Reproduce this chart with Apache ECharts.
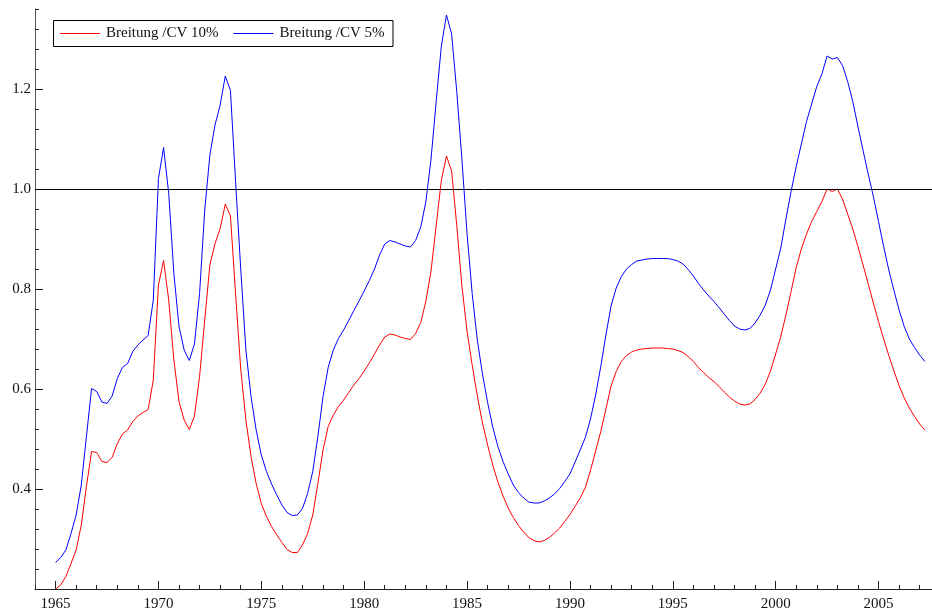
<!DOCTYPE html>
<html>
<head>
<meta charset="utf-8">
<script src="https://cdn.jsdelivr.net/npm/echarts@6/dist/echarts.min.js"></script>
<style>
  html, body { margin: 0; padding: 0; background: #fff; }
  #chart { width: 932px; height: 616px; }
</style>
</head>
<body>
<div id="chart"></div>
<script>
// quarterly series, first value is 1965 Q1
const startYear = 1965;
const cv10 = [
  0.200, 0.208, 0.225, 0.251,
  0.278, 0.328, 0.405, 0.475,
  0.473, 0.455, 0.453, 0.463,
  0.491, 0.510, 0.518, 0.535,
  0.546, 0.553, 0.559, 0.618,
  0.808, 0.857, 0.778, 0.658,
  0.575, 0.538, 0.519, 0.546,
  0.625, 0.738, 0.848, 0.891,
  0.921, 0.970, 0.946, 0.790,
  0.640, 0.538, 0.465, 0.411,
  0.371, 0.345, 0.325, 0.308,
  0.293, 0.279, 0.273, 0.273,
  0.288, 0.311, 0.348, 0.411,
  0.478, 0.525, 0.548, 0.565,
  0.578, 0.593, 0.608, 0.621,
  0.636, 0.652, 0.670, 0.688,
  0.704, 0.710, 0.708, 0.704,
  0.701, 0.699, 0.711, 0.733,
  0.776, 0.836, 0.927, 1.017,
  1.066, 1.036, 0.927, 0.806,
  0.716, 0.648, 0.586, 0.532,
  0.488, 0.448, 0.414, 0.386,
  0.362, 0.343, 0.327, 0.314,
  0.303, 0.297, 0.294, 0.297,
  0.303, 0.312, 0.322, 0.335,
  0.349, 0.365, 0.382, 0.403,
  0.437, 0.476, 0.515, 0.560,
  0.606, 0.635, 0.655, 0.667,
  0.674, 0.678, 0.680, 0.681,
  0.682, 0.682, 0.682, 0.681,
  0.680, 0.677, 0.673, 0.665,
  0.655, 0.643, 0.633, 0.623,
  0.615, 0.605, 0.594, 0.584,
  0.576, 0.570, 0.568, 0.570,
  0.579, 0.592, 0.610, 0.636,
  0.670, 0.705, 0.748, 0.795,
  0.843, 0.880, 0.910, 0.935,
  0.955, 0.975, 1.000, 0.995,
  1.000, 0.980, 0.950, 0.920,
  0.885, 0.848, 0.810, 0.772,
  0.735, 0.700, 0.667, 0.636,
  0.607, 0.582, 0.562, 0.545,
  0.530, 0.518
];
const cv5 = [
  0.253, 0.263, 0.278, 0.311,
  0.348, 0.408, 0.505, 0.601,
  0.595, 0.574, 0.571, 0.586,
  0.621, 0.643, 0.651, 0.675,
  0.688, 0.698, 0.707, 0.778,
  1.021, 1.083, 0.991, 0.831,
  0.725, 0.678, 0.657, 0.690,
  0.791, 0.958, 1.068, 1.128,
  1.168, 1.226, 1.197, 1.015,
  0.840, 0.678, 0.585, 0.518,
  0.468, 0.435, 0.410, 0.388,
  0.368, 0.353, 0.347, 0.348,
  0.361, 0.391, 0.435, 0.505,
  0.585, 0.643, 0.678, 0.701,
  0.718, 0.737, 0.757, 0.776,
  0.796, 0.817, 0.840, 0.868,
  0.890, 0.897, 0.894, 0.890,
  0.886, 0.884, 0.897, 0.924,
  0.975, 1.060, 1.175, 1.285,
  1.348, 1.310, 1.195, 1.060,
  0.911, 0.791, 0.698, 0.630,
  0.573, 0.524, 0.485, 0.455,
  0.430, 0.408, 0.393, 0.382,
  0.374, 0.372, 0.372, 0.376,
  0.382, 0.390, 0.401, 0.415,
  0.430, 0.454, 0.478, 0.503,
  0.540, 0.588, 0.645, 0.708,
  0.766, 0.802, 0.825, 0.840,
  0.849, 0.856, 0.858, 0.860,
  0.861, 0.861, 0.861, 0.861,
  0.859, 0.856, 0.850, 0.839,
  0.826, 0.811, 0.798, 0.786,
  0.775, 0.763, 0.750, 0.737,
  0.726, 0.720, 0.718, 0.721,
  0.732, 0.748, 0.768, 0.798,
  0.840, 0.882, 0.940, 0.995,
  1.045, 1.090, 1.135, 1.170,
  1.205, 1.230, 1.266, 1.260,
  1.263, 1.247, 1.215, 1.175,
  1.125, 1.077, 1.030, 0.985,
  0.935, 0.885, 0.838, 0.797,
  0.758, 0.725, 0.700, 0.683,
  0.668, 0.655
];
const xLabels = [1965, 1970, 1975, 1980, 1985, 1990, 1995, 2000, 2005];
const yLabels = [0.4, 0.6, 0.8, 1.0, 1.2];
const names = ['Breitung /CV 10%', 'Breitung /CV 5%'];
const colors = ['#ff0000', '#0000ff'];

const xMin = 1964, xMax = 2007.6, yMin = 0.2, yMax = 1.36;

// minor ticks: every year / every 0.04
const xMinor = [];
for (let y = 1964; y <= 2007; y++) xMinor.push(y);
const yMinor = [];
for (let k = 0; k <= 29; k++) yMinor.push(+(0.2 + k * 0.04).toFixed(2));

const toPairs = arr => arr.map((v, i) => [startYear + i * 0.25, v]);

const font = 'Liberation Serif';

// boxed legend drawn as graphic elements (legend component keys render black in this build)
const ctx = document.createElement('canvas').getContext('2d');
ctx.font = '15px "' + font + '"';
const boxX = 53, boxY = 20, boxH = 26, padL = 7, padR = 8, keyW = 40, keyTxtGap = 6, itemGap = 15;
const keyY = boxY + boxH / 2 + 0.5;
let cursor = boxX + padL;
const legendEls = [];
names.forEach((n, i) => {
  legendEls.push({
    type: 'line', silent: true,
    shape: { x1: cursor, y1: keyY, x2: cursor + keyW, y2: keyY },
    style: { stroke: colors[i], lineWidth: 1 }
  });
  cursor += keyW + keyTxtGap;
  legendEls.push({
    type: 'text', silent: true, x: cursor, y: boxY + boxH / 2,
    style: { text: n, font: '15px "' + font + '"', fill: '#111', verticalAlign: 'middle', align: 'left' }
  });
  cursor += ctx.measureText(n).width + (i < names.length - 1 ? itemGap : 0);
});
legendEls.unshift({
  type: 'rect', silent: true,
  shape: { x: boxX + 0.5, y: boxY + 0.5, width: cursor + padR - boxX, height: boxH },
  style: { fill: '#fff', stroke: '#000', lineWidth: 1 }
});

const chart = echarts.init(document.getElementById('chart'));

const option = {
  animation: false,
  backgroundColor: '#fff',
  color: colors,
  grid: { left: 35, right: 0, top: 9, bottom: 27 },
  graphic: { z: 10, elements: legendEls },
  xAxis: [
    {
      type: 'value', min: xMin, max: xMax,
      axisLine: { show: true, onZero: false, lineStyle: { color: '#222', width: 1 } },
      axisTick: { show: true, inside: true, length: 8, customValues: xLabels, lineStyle: { color: '#222' } },
      axisLabel: {
        customValues: xLabels, margin: 8,
        fontFamily: font, fontSize: 15, color: '#111',
        formatter: v => String(v)
      },
      splitLine: { show: false }
    },
    {
      type: 'value', min: xMin, max: xMax, position: 'bottom',
      axisLine: { show: false },
      axisTick: { show: true, inside: true, length: 4, customValues: xMinor, lineStyle: { color: '#222' } },
      axisLabel: { show: false },
      splitLine: { show: false }
    }
  ],
  yAxis: [
    {
      type: 'value', min: yMin, max: yMax,
      axisLine: { show: true, onZero: false, lineStyle: { color: '#555', width: 1 } },
      axisTick: { show: true, inside: true, length: 8, customValues: yLabels, lineStyle: { color: '#222' } },
      axisLabel: {
        customValues: yLabels, margin: 4,
        fontFamily: font, fontSize: 15, color: '#111',
        formatter: v => v.toFixed(1)
      },
      splitLine: { show: false }
    },
    {
      type: 'value', min: yMin, max: yMax, position: 'left',
      axisLine: { show: false },
      axisTick: { show: true, inside: true, length: 4, customValues: yMinor, lineStyle: { color: '#222' } },
      axisLabel: { show: false },
      splitLine: { show: false }
    }
  ],
  series: [
    {
      name: names[0], type: 'line', data: toPairs(cv10),
      symbol: 'none', smooth: false,
      lineStyle: { color: colors[0], width: 1 },
      itemStyle: { color: colors[0] },
      markLine: {
        silent: true, symbol: 'none', label: { show: false },
        lineStyle: { color: '#000', width: 1, type: 'solid' },
        data: [{ yAxis: 1.0 }]
      }
    },
    {
      name: names[1], type: 'line', data: toPairs(cv5),
      symbol: 'none', smooth: false,
      lineStyle: { color: colors[1], width: 1 },
      itemStyle: { color: colors[1] }
    }
  ]
};
chart.setOption(option);
</script>
</body>
</html>
